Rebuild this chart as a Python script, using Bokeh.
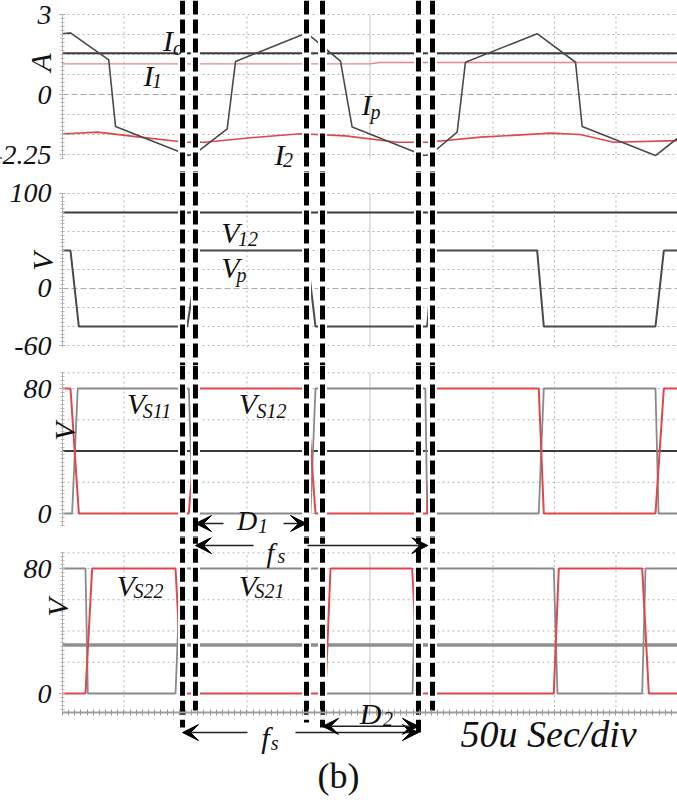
import numpy as np
from bokeh.plotting import figure
from bokeh.models import Range1d, FixedTicker, Span, Label, Arrow, VeeHead, PrintfTickFormatter
from bokeh.layouts import column
from bokeh.embed import file_html
from bokeh.resources import INLINE

SERIF = "Liberation Serif"
RED = "#e0474c"
LRED = "#e98585"
GRAY = "#8a8a8a"
DARK = "#3c3c3c"
GRID = "#b4b4b4"

# ---------------- time axis (us), 50 us / div ----------------
t_grid = [0, 50, 100, 150, 200, 250, 300, 350, 400, 450, 500]
t_span = [0, 500]
t_view_left = -50.4          # room left of the time axis for the scale labels
t_minor_step = 5

# ---------------- panel 1 : currents (A) ----------------
cur_ticks = [-2.25, -1.5, -0.75, 0, 0.75, 1.5, 2.25, 3]
cur_label_ticks = [3, 0, -2.25]
cur_bounds = (-2.4, 3.0)
cur_minor_step = 0.15
Io_level = 1.55
I1_t = [0, 250, 258, 500]
I1_v = [1.15, 1.15, 1.2, 1.2]
Ip_t = [0, 6.5, 37.6, 43.1, 102.7, 109.5, 133.9, 140.7, 198.4, 226.0, 235.5,
        293.7, 299.2, 320.9, 327.6, 385.9, 417.1, 422.5, 482.1, 499.8]
Ip_v = [2.28, 2.31, 1.30, -1.20, -2.29, -2.16, -1.29, 1.24, 2.31, 1.25, -1.22,
        -2.29, -2.25, -1.41, 1.21, 2.28, 1.21, -1.20, -2.29, -1.65]
I2_t = [0, 28.5, 63, 100, 116, 153, 193.5, 230, 272, 297, 340, 397, 421, 448, 500]
I2_v = [-1.48, -1.41, -1.6, -1.79, -1.79, -1.62, -1.47, -1.55, -1.79, -1.79,
        -1.6, -1.45, -1.5, -1.79, -1.73]

# ---------------- panel 2 : V12 and Vp (V) ----------------
v_ticks = [-60, -40, -20, 0, 20, 40, 60, 80, 100]
v_label_ticks = [100, 0, -60]
v_bounds = (-62, 100)
v_minor_step = 4
V12_level = 80
Vp_t = [0, 6.5, 13.3, 101.4, 110.8, 198.4, 205.7, 296.5, 301.9, 385.9, 391.3,
        482.1, 488.9, 500]
Vp_v = [40, 40, -40, -40, 40, 40, -40, -40, 40, 40, -40, -40, 40, 40]

# ---------------- panel 3 : VS11 and VS12 (V) ----------------
s_ticks = [0, 20, 40, 60, 80, 90]
s_label_ticks = [80, 0]
s1_bounds = (-8, 90)
s_minor_step = 2.5
S1_level = 40
VS12_t = [0, 6.5, 13.3, 102.7, 110.8, 198.4, 205.7, 296.5, 301.9, 387.2, 391.3,
          482.1, 488.9, 500]
VS12_v = [80, 80, 0, 0, 80, 80, 0, 0, 80, 80, 0, 0, 80, 80]
VS11_t = [0, 7.8, 12.4, 102.7, 106.0, 201.6, 205.7, 295.0, 296.5, 387.2, 391.3,
          482.1, 484.6, 500]
VS11_v = [0, 0, 80, 80, 0, 0, 80, 80, 0, 0, 80, 80, 0, 0]

# ---------------- panel 4 : VS21 and VS22 (V) ----------------
s2_bounds = (-12, 90)
S2_level = 31
VS22_t = [0, 18.7, 24.1, 91.9, 97.3, 213.8, 217.9, 284.3, 289.7, 399.4, 403.5,
          471.3, 476.7, 500]
VS22_v = [0, 0, 80, 80, 0, 0, 80, 80, 0, 0, 80, 80, 0, 0]
VS21_t = [0, 18.7, 20.6, 91.9, 95.9, 211.4, 213.8, 284.6, 287.0, 399.4, 402.4,
          471.3, 474.0, 500]
VS21_v = [80, 80, 0, 0, 80, 80, 0, 0, 80, 80, 0, 0, 80, 80]

# ---------------- timing markers (dashed) ----------------
marker_t = [97.6, 108.1, 198.4, 211.4, 289.4, 300.8]
marker_end_v = [-21.8, -10.9, -18.6, -21.8, -25.0, -10.9]   # where they stop in panel 4


def make_fig(height, y_lo, y_hi, with_x=False):
    p = figure(width=677, height=height, x_range=Range1d(t_view_left, t_span[1]),
               y_range=Range1d(y_lo, y_hi), output_backend="svg",
               toolbar_location=None, tools="", title=None,
               min_border_left=0, min_border_right=0,
               min_border_top=0, min_border_bottom=0,
               x_axis_location="below" if with_x else None)
    p.outline_line_color = None
    p.grid.visible = False
    return p


def style_y(p, label_ticks, bounds, step, axis_name, name_pos):
    minor = [float(v) for v in np.arange(np.ceil(bounds[0] / step) * step,
                                         bounds[1] + step / 2, step)]
    ax = p.yaxis[0]
    ax.fixed_location = t_span[0]
    ax.ticker = FixedTicker(ticks=label_ticks, minor_ticks=minor)
    ax.formatter = PrintfTickFormatter(format="%g")
    ax.bounds = bounds
    ax.major_label_text_font = SERIF
    ax.major_label_text_font_style = "italic"
    ax.major_label_text_font_size = "28px"
    ax.major_label_text_color = "#111111"
    ax.major_label_standoff = 8
    ax.axis_line_color = "#b0b0b0"
    ax.major_tick_line_color = "#999999"
    ax.major_tick_in = 3
    ax.major_tick_out = 3
    ax.minor_tick_line_color = "#b8b8b8"
    ax.minor_tick_in = 2
    ax.minor_tick_out = 2
    p.add_layout(Label(x=name_pos[0], y=name_pos[1], text=axis_name, angle=np.pi / 2,
                       text_align="center", text_baseline="middle", text_font=SERIF,
                       text_font_style="italic", text_font_size="30px",
                       text_color="#111111"))


def grid_lines(p, ticks, lo, hi, dashed_zero=False):
    inner = t_grid[1:-1]
    vx = [t for t in inner if t != 250]
    p.segment(x0=vx, y0=[lo] * len(vx), x1=vx, y1=[hi] * len(vx),
              line_color=GRID, line_dash="2 3", line_width=1)
    p.segment(x0=[250], y0=[lo], x1=[250], y1=[hi], line_color="#c4c4c4", line_width=1)
    hy = [v for v in ticks if not (dashed_zero and v == 0)]
    p.segment(x0=[t_span[0]] * len(hy), y0=hy, x1=[t_span[1]] * len(hy), y1=hy,
              line_color=GRID, line_dash="2 3", line_width=1)
    if dashed_zero:
        p.segment(x0=[t_span[0]], y0=[0], x1=[t_span[1]], y1=[0],
                  line_color="#a8a8a8", line_dash="6 3", line_width=1)


def markers_span(p):
    for t in marker_t:
        p.add_layout(Span(location=t, dimension="height", line_color="white", line_width=9))
        p.add_layout(Span(location=t, dimension="height", line_color="black",
                          line_width=5, line_dash="14 5"))


def txt(p, text, x, y, size="30px", style="italic", align="center"):
    p.add_layout(Label(x=x, y=y, text=text, text_align=align, text_baseline="middle",
                       text_font=SERIF, text_font_style=style, text_font_size=size,
                       text_color="#111111"))


def sym(p, main, sub, x, y, xs, ys, size="30px"):
    txt(p, main, x, y, size=size)
    txt(p, sub, xs, ys, size="20px")


def arrow(p, x0, y0, x1, y1, both=False):
    p.add_layout(Arrow(start=VeeHead(size=16, fill_color="black", line_color="black") if both else None,
                       end=VeeHead(size=16, fill_color="black", line_color="black"),
                       x_start=x0, y_start=y0, x_end=x1, y_end=y1,
                       line_color="#222222", line_width=1.5))


# ================= panel 1 =================
p1 = make_fig(172, -2.925, 3.525)
grid_lines(p1, cur_ticks, cur_bounds[0], cur_bounds[1], dashed_zero=True)
p1.line(t_span, [Io_level, Io_level], line_color=DARK, line_width=2)
p1.line(I1_t, I1_v, line_color=LRED, line_width=1.3)
p1.line(I2_t, I2_v, line_color=RED, line_width=1.6)
p1.line(Ip_t, Ip_v, line_color="#4a4a4a", line_width=1.6)
style_y(p1, cur_label_ticks, cur_bounds, cur_minor_step, "A", (-17.9, 1.2))
markers_span(p1)
sym(p1, "I", "o", 85.8, 2.02, 93.9, 1.76)
sym(p1, "I", "1", 69.9, 0.71, 76.8, 0.49)
sym(p1, "I", "p", 247.2, -0.375, 254.5, -0.67)
sym(p1, "I", "2", 176.4, -2.25, 183.3, -2.47)

# ================= panel 2 =================
p2 = make_fig(193, -81.05, 122.1)
grid_lines(p2, v_ticks, v_bounds[0], v_bounds[1], dashed_zero=True)
p2.line(t_span, [V12_level, V12_level], line_color=DARK, line_width=2)
p2.line(Vp_t, Vp_v, line_color="#4a4a4a", line_width=2)
style_y(p2, v_label_ticks, v_bounds, v_minor_step, "V", (-16.3, 28.4))
markers_span(p2)
sym(p2, "V", "12", 136.6, 58.9, 150.8, 52.1)
sym(p2, "V", "p", 136.6, 22.1, 145.5, 13.7)

# ================= panel 3 =================
p3 = make_fig(172, -15.36, 94.72)
grid_lines(p3, s_ticks, 0, s1_bounds[1])
p3.line(t_span, [S1_level, S1_level], line_color=DARK, line_width=2)
p3.line(VS11_t, VS11_v, line_color=GRAY, line_width=1.8)
p3.line(VS12_t, VS12_v, line_color=RED, line_width=2)
style_y(p3, s_label_ticks, s1_bounds, s_minor_step, "V", (1.6, 52.5))
markers_span(p3)
sym(p3, "V", "S11", 59.8, 70.4, 76.8, 65.9)
sym(p3, "V", "S12", 150.8, 70.4, 169.9, 65.9)
arrow(p3, 130.9, -6.4, 108.1, -6.4)
arrow(p3, 179.7, -6.4, 198.4, -6.4)
sym(p3, "D", "1", 150.0, -4.5, 163.0, -8.3, size="28px")

# ================= panel 4 =================
p4 = make_fig(266, -70.4, 99.84, with_x=True)
grid_lines(p4, s_ticks, s2_bounds[0], s2_bounds[1])
p4.line(t_span, [S2_level, S2_level], line_color="#8f8f8f", line_width=3.5)
p4.line(VS21_t, VS21_v, line_color=GRAY, line_width=1.8)
p4.line(VS22_t, VS22_v, line_color=RED, line_width=2)
style_y(p4, s_label_ticks, s2_bounds, s_minor_step, "V", (-4.0, 55.0))
xa = p4.xaxis[0]
xa.fixed_location = s2_bounds[0]
xa.ticker = FixedTicker(ticks=[], minor_ticks=[float(v) for v in np.arange(0, 501, t_minor_step)])
xa.bounds = (t_span[0], t_span[1])
xa.axis_line_color = "#a0a0a0"
xa.axis_line_width = 2
xa.minor_tick_line_color = "#999999"
xa.minor_tick_in = 3
xa.minor_tick_out = 3
top = [p4.y_range.end + 5] * len(marker_t)
p4.segment(x0=marker_t, y0=top, x1=marker_t, y1=marker_end_v, line_color="white", line_width=9)
p4.segment(x0=marker_t, y0=top, x1=marker_t, y1=marker_end_v, line_color="black",
           line_width=5, line_dash="14 5")
sym(p4, "V", "S22", 51.6, 69.1, 69.9, 65.3)
sym(p4, "V", "S21", 150.8, 69.1, 168.3, 65.3)
arrow(p4, 155.3, 94.7, 108.1, 94.7)
arrow(p4, 199.2, 94.7, 297.0, 94.7)
sym(p4, "f", "s", 169.1, 90.2, 178.0, 87.7, size="28px")
arrow(p4, 150.4, -25.0, 97.6, -25.0)
arrow(p4, 189.4, -25.0, 289.4, -25.0)
arrow(p4, 211.4, -21.0, 289.4, -21.0, both=True)
sym(p4, "D", "2", 250.4, -12.8, 264.6, -16.6)
sym(p4, "f", "s", 165.0, -28.2, 172.4, -31.4)
txt(p4, "50u Sec/div", 323.6, -25.6, size="38px", align="left")
txt(p4, "(b)", 224.4, -52.5, size="36px", style="normal")

layout = column(p1, p2, p3, p4, spacing=0)
open("out.html", "w").write(file_html(layout, INLINE))
